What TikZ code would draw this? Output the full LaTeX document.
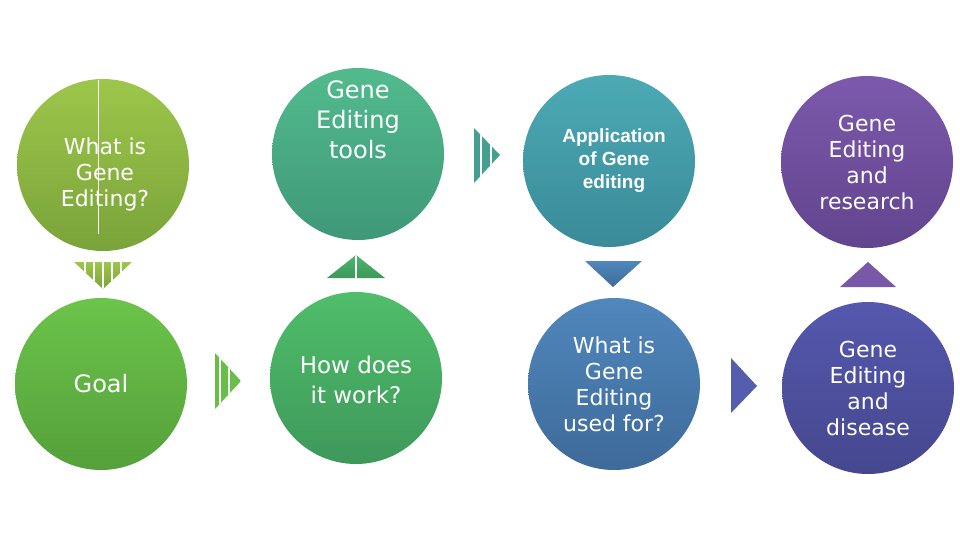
\documentclass[tikz,border=0pt]{standalone}
\usepackage{fontspec}
\setmainfont{DejaVu Sans}
\newfontfamily\arialfont{Liberation Sans}
\usepackage{xcolor}
\usetikzlibrary{positioning}

\definecolor{limeTop}{HTML}{9DC64B}
\definecolor{limeBot}{HTML}{7AA33A}
\definecolor{goalTop}{HTML}{6BC44A}
\definecolor{goalBot}{HTML}{55A03A}
\definecolor{howTop}{HTML}{4FBE6A}
\definecolor{howBot}{HTML}{3E985A}
\definecolor{toolTop}{HTML}{52BB8E}
\definecolor{toolBot}{HTML}{3F9878}
\definecolor{appTop}{HTML}{4CAAB5}
\definecolor{appBot}{HTML}{3A8A99}
\definecolor{useTop}{HTML}{5087BC}
\definecolor{useBot}{HTML}{3E6A9A}
\definecolor{disTop}{HTML}{5558AD}
\definecolor{disBot}{HTML}{45478E}
\definecolor{resTop}{HTML}{7C59AC}
\definecolor{resBot}{HTML}{62448E}

\begin{document}
\begin{tikzpicture}[
  x=1pt, y=-1pt,
  bubble/.style={circle, minimum size=172pt, inner sep=0pt},
  every label/.style={text=white, align=center, inner sep=0pt,
                      font=\fontsize{22}{26}\selectfont},
  stripe/.style={draw=white, line width=1.3pt},
]
\useasboundingbox (0,0) rectangle (960,540);
% top row
\node[bubble, top color=limeTop, bottom color=limeBot,
  label={[yshift=-9pt, xshift=2pt]center:What is\\Gene\\Editing?}] (what) at (103,165) {};
\node[bubble, top color=toolTop, bottom color=toolBot,
  label={[yshift=34pt, font=\fontsize{24}{30}\selectfont]center:Gene\\Editing\\tools}] (tools) at (358,154) {};
\node[bubble, top color=appTop, bottom color=appBot,
  label={[xshift=5pt, font=\arialfont\bfseries\fontsize{19}{23}\selectfont]center:Application\\of Gene\\editing}] (app) at (609,161) {};
\node[bubble, top color=resTop, bottom color=resBot,
  label={center:Gene\\Editing\\and\\research}] (research) at (867,162) {};
% bottom row
\node[bubble, top color=goalTop, bottom color=goalBot,
  label={[font=\fontsize{24}{30}\selectfont]center:Goal}] (goal) at (101,384) {};
\node[bubble, top color=howTop, bottom color=howBot,
  label={[yshift=-2pt, font=\fontsize{23}{30}\selectfont]center:How does\\it work?}] (how) at (356,378) {};
\node[bubble, top color=useTop, bottom color=useBot,
  label={center:What is\\Gene\\Editing\\used for?}] (usedfor) at (614,384) {};
\node[bubble, top color=disTop, bottom color=disBot,
  label={center:Gene\\Editing\\and\\disease}] (disease) at (868,388) {};
\draw[stripe, line width=1pt] (98,80) -- (98,234);
% arrows between the bubbles
\begin{scope}
  \clip (74,262) -- (132,262) -- (103,289) -- cycle;
  \shade[top color=limeTop, bottom color=limeBot] (74,262) rectangle (132,289);
  \foreach \x in {85,94,103,112,121} \draw[stripe] (\x,262) -- (\x,289);
\end{scope}
\begin{scope}
  \clip (215,353) -- (241,381) -- (215,409) -- cycle;
  \fill[goalTop!85!goalBot] (215,353) rectangle (241,409);
  \foreach \x in {220,229} \draw[stripe] (\x,353) -- (\x,409);
\end{scope}
\begin{scope}
  \clip (327,278) -- (356,255) -- (385,278) -- cycle;
  \shade[top color=howTop!80!toolBot, bottom color=howBot] (327,255) rectangle (385,278);
  \draw[stripe] (356,255) -- (356,278);
\end{scope}
\begin{scope}
  \clip (474,128) -- (500,155) -- (474,183) -- cycle;
  \fill[toolBot!60!appTop] (474,128) rectangle (500,183);
  \foreach \x in {481,491} \draw[stripe] (\x,128) -- (\x,183);
\end{scope}
\shade[top color=useTop, bottom color=useBot] (585,261) -- (642,261) -- (613,287) -- cycle;
\fill[disTop!90!useTop] (731,358) -- (757,386) -- (731,413) -- cycle;
\fill[resTop!90!resBot] (840,287) -- (868,262) -- (896,287) -- cycle;
\end{tikzpicture}
\end{document}
